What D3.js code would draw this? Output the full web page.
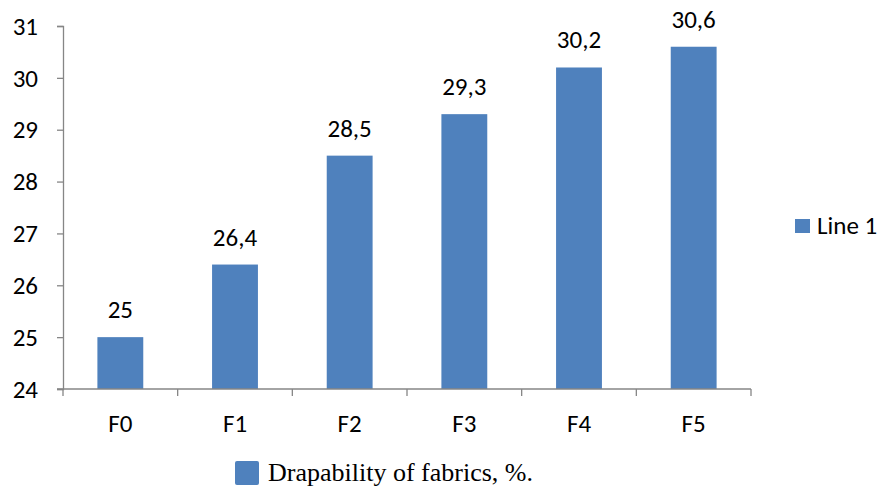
<!DOCTYPE html>
<html><head><meta charset="utf-8">
<script src="https://cdn.jsdelivr.net/npm/d3@7"></script>
<style>body{margin:0;background:#fff}svg{display:block}</style>
</head><body><svg id="c" width="880" height="486"></svg>
<script>
const categories = ["F0","F1","F2","F3","F4","F5"];
const values = [25, 26.4, 28.5, 29.3, 30.2, 30.6];
const valueLabels = ["25","26,4","28,5","29,3","30,2","30,6"];
const yTicks = [24,25,26,27,28,29,30,31];
const seriesName = "Line 1";
const captionText = "Drapability of fabrics, %.";

const svg = d3.select("#c");
const color = "#4F81BD";
const axisColor = "#868686";
const font = "Carlito, 'Liberation Sans', Arial, sans-serif";
const fs = 25;

const x = d3.scaleBand().domain(categories).range([63, 751]).paddingInner(0.6).paddingOuter(0.3);
const y = d3.scaleLinear().domain([24, 31]).range([389, 26]);

// bars
svg.selectAll("rect.bar").data(values).join("rect")
  .attr("class","bar")
  .attr("x",(d,i)=>x(categories[i]))
  .attr("width",x.bandwidth())
  .attr("y",d=>y(d))
  .attr("height",d=>y(24)-y(d))
  .attr("fill",color);

// y axis
const gy = svg.append("g").attr("transform","translate(63,0)")
  .call(d3.axisLeft(y).tickValues(yTicks).tickSize(6).tickPadding(19).tickFormat(d3.format("d")));
gy.select(".domain").attr("stroke",axisColor).attr("stroke-width",1.3);
gy.selectAll(".tick line").attr("stroke",axisColor).attr("stroke-width",1.3);
gy.selectAll(".tick text").attr("font-family",font).attr("font-size",fs).attr("fill","#000").attr("dy","0.33em");

// x axis
const gx = svg.append("g").attr("transform","translate(0,389)");
gx.append("line").attr("x1",57).attr("x2",751).attr("y1",0).attr("y2",0).attr("stroke",axisColor).attr("stroke-width",1.3);
const bounds = d3.range(categories.length+1).map(i=>63+i*(751-63)/categories.length);
gx.selectAll("line.tk").data(bounds).join("line").attr("class","tk")
  .attr("x1",d=>d).attr("x2",d=>d).attr("y1",0).attr("y2",7)
  .attr("stroke",axisColor).attr("stroke-width",1.3);
gx.selectAll("text.cat").data(categories).join("text").attr("class","cat")
  .attr("x",d=>x(d)+x.bandwidth()/2).attr("y",43)
  .attr("text-anchor","middle").attr("font-family",font).attr("font-size",fs).attr("fill","#000")
  .text(d=>d);

// value labels
svg.selectAll("text.val").data(values).join("text").attr("class","val")
  .attr("x",(d,i)=>x(categories[i])+x.bandwidth()/2)
  .attr("y",d=>y(d)-19)
  .attr("text-anchor","middle").attr("font-family",font).attr("font-size",fs).attr("fill","#000")
  .text((d,i)=>valueLabels[i]);

// right legend
svg.append("rect").attr("x",795).attr("y",219).attr("width",15).attr("height",14).attr("fill",color);
svg.append("text").attr("x",817).attr("y",234).attr("font-family",font).attr("font-size",fs).attr("fill","#000").text(seriesName);

// bottom caption
svg.append("rect").attr("x",235).attr("y",461).attr("width",24).attr("height",24).attr("rx",2).attr("fill",color);
svg.append("text").attr("x",268).attr("y",481).attr("font-family","'Liberation Serif','Times New Roman',serif").attr("font-size",26).attr("fill","#000").text(captionText);
</script></body></html>
